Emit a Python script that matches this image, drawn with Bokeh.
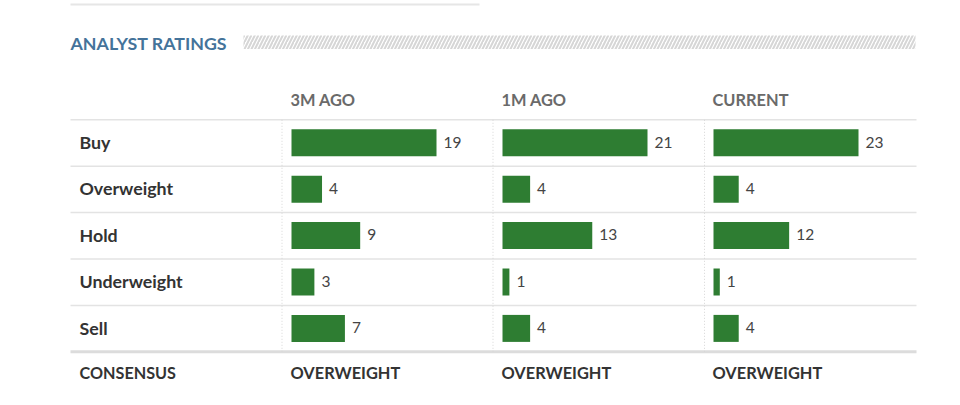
from bokeh.plotting import figure
from bokeh.models import Range1d, ColumnDataSource
from bokeh.core.properties import value
from bokeh.embed import file_html
from bokeh.resources import INLINE

# ---- data ----
title = "ANALYST RATINGS"
categories = ["Buy", "Overweight", "Hold", "Underweight", "Sell"]
periods = ["3M AGO", "1M AGO", "CURRENT"]
ratings_3m = [19, 4, 9, 3, 7]
ratings_1m = [21, 4, 13, 1, 4]
ratings_cur = [23, 4, 12, 1, 4]
consensus_label = "CONSENSUS"
consensus = ["OVERWEIGHT", "OVERWEIGHT", "OVERWEIGHT"]

series = [ratings_3m, ratings_1m, ratings_cur]

# ---- layout (pixel-like data space) ----
W, H = 944, 389
FONT = value("Lato")
GREEN = "#2e7d32"

p = figure(width=W, height=H, output_backend="svg", toolbar_location=None,
           x_range=Range1d(0, W), y_range=Range1d(H, 0),
           min_border=0, outline_line_color=None)
p.axis.visible = False
p.grid.visible = False
p.background_fill_color = "white"

left, right = 70, 916
label_x = 79
col_line_x = [281.5, 492.5, 704]
bar_x0 = [291, 502, 713]
bar_max_len = 145
row_y0 = 142.3
row_step = 46.4
bar_h = 27

# top divider
p.segment(x0=[left], y0=[4], x1=[479], y1=[4], line_color="#e6e6e6", line_width=2)

# title + hatched band
p.text(x=[left], y=[42.3], text=[title], text_font=FONT, text_font_style="bold",
       text_font_size="17.8px", text_color="#44739a", text_baseline="middle", text_align="left")
p.quad(left=[243], right=[915], top=[35], bottom=[48.5], fill_color=None, line_color=None,
       hatch_pattern="/", hatch_color="#d6d6d6", hatch_scale=7, hatch_weight=2)

# header
p.text(x=[x - 1 for x in bar_x0], y=[98.5] * 3, text=periods, text_font=FONT, text_font_style="bold",
       text_font_size="16.4px", text_color="#6a6a6a", text_baseline="middle", text_align="left")

# row separators
row_centers = [row_y0 + i * row_step for i in range(len(categories))]
seps = [row_y0 + 0.2 - row_step / 2 + i * row_step for i in range(len(categories))]
p.segment(x0=[left] * len(seps), y0=seps, x1=[right] * len(seps), y1=seps,
          line_color="#e3e3e3", line_width=1.5)
bottom_y = row_y0 + 0.2 - row_step / 2 + len(categories) * row_step
p.segment(x0=[left], y0=[bottom_y], x1=[right], y1=[bottom_y], line_color="#dcdcdc", line_width=3)

# vertical dotted column lines
p.segment(x0=col_line_x, y0=[seps[0]] * 3, x1=col_line_x, y1=[bottom_y] * 3,
          line_color="#d6d6d6", line_width=1, line_dash="1 2")

# row labels
p.text(x=[label_x] * len(categories), y=[c - 0.8 for c in row_centers], text=categories,
       text_font=FONT, text_font_style="bold", text_font_size="17.8px", text_color="#333333",
       text_baseline="middle", text_align="left")

# bars + value labels
for ci, vals in enumerate(series):
    scale = bar_max_len / max(vals)
    x0 = bar_x0[ci]
    src = ColumnDataSource(dict(
        y=row_centers,
        ty=[c - 0.8 for c in row_centers],
        left=[x0] * len(vals),
        right=[x0 + v * scale for v in vals],
        lx=[x0 + v * scale + 7 for v in vals],
        txt=[str(v) for v in vals],
    ))
    p.hbar(y="y", left="left", right="right", height=bar_h, source=src,
           fill_color=GREEN, line_color=None)
    p.text(x="lx", y="ty", text="txt", source=src, text_font=FONT, text_font_size="15.5px",
           text_color="#444444", text_baseline="middle", text_align="left")

# consensus row
p.text(x=[label_x], y=[372.3], text=[consensus_label], text_font=FONT, text_font_style="bold",
       text_font_size="16.2px", text_color="#333333", text_baseline="middle", text_align="left")
p.text(x=[x - 1 for x in bar_x0], y=[372.3] * 3, text=consensus, text_font=FONT,
       text_font_style="bold", text_font_size="16.4px", text_color="#333333",
       text_baseline="middle", text_align="left")

open("out.html", "w").write(file_html(p, INLINE))
